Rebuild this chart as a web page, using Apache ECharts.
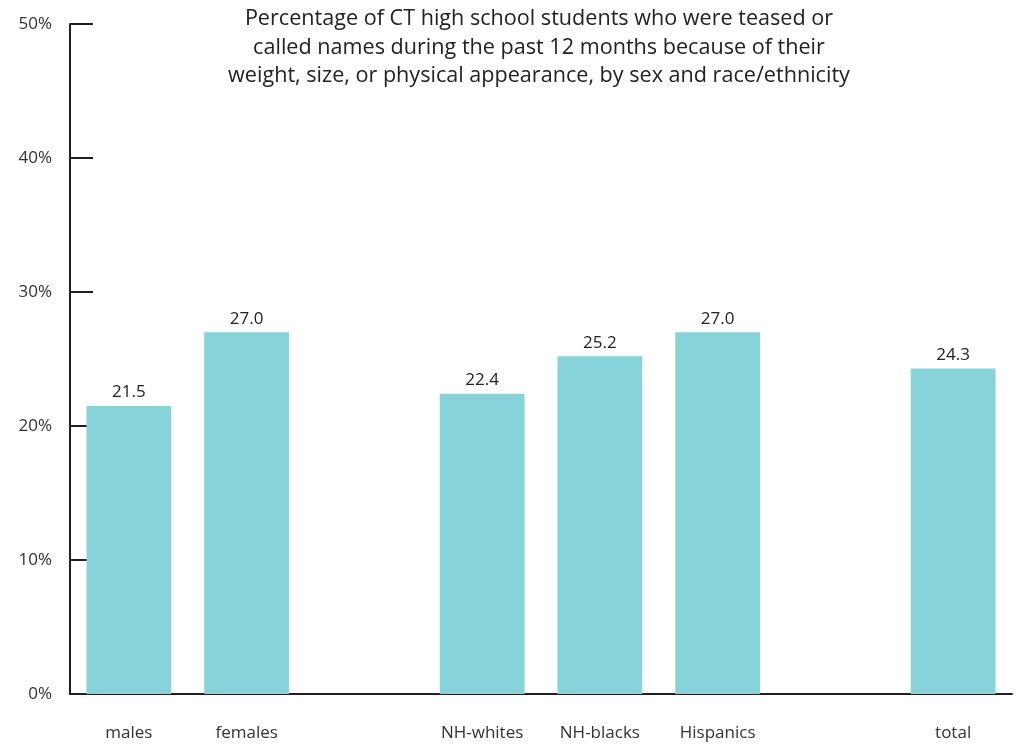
<!DOCTYPE html>
<html>
<head>
<meta charset="utf-8">
<script src="https://cdn.jsdelivr.net/npm/echarts@6/dist/echarts.min.js"></script>
<style>
  html, body { margin: 0; padding: 0; background: #fff; }
  #chart { width: 1019px; height: 744px; }
</style>
</head>
<body>
<div id="chart"></div>
<script>
// Teasing about weight/size/appearance, CT high school students (%)
const categories = ['males', 'females', '', 'NH-whites', 'NH-blacks', 'Hispanics', '', 'total'];
const percentages = [21.5, 27.0, null, 22.4, 25.2, 27.0, null, 24.3];
const yTicks = [0, 10, 20, 30, 40, 50];

const titleText = 'Percentage of CT high school students who were teased or\n' +
  'called names during the past 12 months because of their\n' +
  'weight, size, or physical appearance, by sex and race/ethnicity';

const font = '"Open Sans", "Noto Sans", sans-serif';

const chart = echarts.init(document.getElementById('chart'));
chart.setOption({
  animation: false,
  title: {
    text: titleText,
    left: 534,
    textAlign: 'center',
    top: 0,
    textStyle: {
      fontFamily: font,
      fontSize: 21.6,
      fontWeight: 'normal',
      color: '#222',
      lineHeight: 28.5
    }
  },
  grid: { left: 70, right: 7, top: 24, bottom: 50, containLabel: false },
  xAxis: {
    type: 'category',
    data: categories,
    axisLine: { lineStyle: { color: '#231f20', width: 2 } },
    axisTick: { show: false },
    axisLabel: {
      fontFamily: font,
      fontSize: 17,
      color: '#333',
      margin: 31,
      interval: 0
    }
  },
  yAxis: {
    type: 'value',
    min: yTicks[0],
    max: yTicks[yTicks.length - 1],
    interval: 10,
    splitLine: { show: false },
    axisLine: { show: true, lineStyle: { color: '#231f20', width: 2 } },
    axisTick: { show: true, inside: true, length: 23, lineStyle: { color: '#231f20', width: 2 } },
    axisLabel: {
      fontFamily: font,
      fontSize: 17,
      color: '#333',
      margin: 18,
      formatter: v => v + '%'
    }
  },
  series: [{
    type: 'bar',
    data: percentages,
    barCategoryGap: '28%',
    itemStyle: { color: '#87d3da' },
    label: {
      show: true,
      position: 'top',
      distance: 5,
      fontFamily: font,
      fontSize: 17,
      color: '#222',
      formatter: p => p.value.toFixed(1)
    }
  }]
});
</script>
</body>
</html>
